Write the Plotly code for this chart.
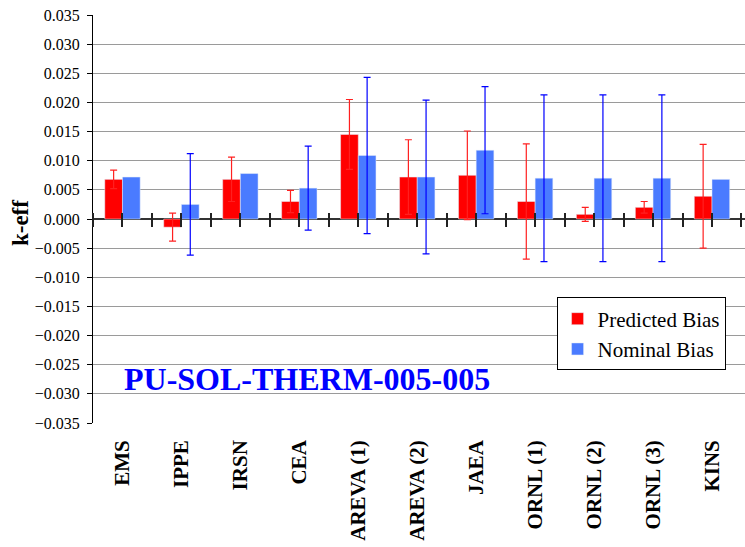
import numpy as np
import plotly.graph_objects as go

labs = ["EMS", "IPPE", "IRSN", "CEA", "AREVA (1)", "AREVA (2)", "JAEA",
        "ORNL (1)", "ORNL (2)", "ORNL (3)", "KINS"]
pred = [0.0068, -0.0014, 0.0068, 0.0030, 0.0145, 0.0072, 0.0075, 0.0030, 0.0008, 0.0020, 0.0039]
pred_err = [0.0016, 0.0024, 0.0038, 0.0019, 0.0060, 0.0064, 0.0076, 0.0099, 0.0012, 0.0010, 0.0089]
nom = [0.0072, 0.0025, 0.0078, 0.0053, 0.0109, 0.0072, 0.0118, 0.0070, 0.0070, 0.0070, 0.0068]
nom_err = np.array([np.nan, 0.0087, np.nan, 0.0072, 0.0134, 0.0132, 0.0109, 0.0143, 0.0143, 0.0143, np.nan])
y_ticks = np.round(np.arange(-0.035, 0.0351, 0.005), 3)

SERIF = "'Liberation Serif', 'Times New Roman', serif"
fig = go.Figure()
fig.add_trace(go.Bar(x=labs, y=pred, name="Predicted Bias", marker_color="#FF0000",
                     error_y=dict(type="data", array=pred_err, color="#FF2020",
                                  thickness=1.2, width=3.5)))
fig.add_trace(go.Bar(x=labs, y=nom, name="Nominal Bias", marker_color="#4A7BFF",
                     error_y=dict(type="data", array=nom_err, color="#0000FF",
                                  thickness=1.2, width=3.5)))
# empty helper trace so the tick-only axis crossing the zero line is drawn
fig.add_trace(go.Scatter(x=[None], y=[None], xaxis="x2", yaxis="y", mode="markers",
                         showlegend=False, hoverinfo="skip"))

n = len(labs)
xr = [-0.5, n - 0.5 + 0.06]
tv = np.arange(-0.5, n, 0.5)
plot_h = 547 - 15 - 124
fig.update_layout(
    width=745, height=547,
    margin=dict(l=93, r=0, t=15, b=124),
    paper_bgcolor="white", plot_bgcolor="white",
    barmode="group", bargap=0.40, bargroupgap=0,
    font=dict(family=SERIF, color="black"),
    xaxis=dict(range=xr, showgrid=False, ticks="", automargin=False,
               tickangle=-90, ticklabelstandoff=12,
               tickfont=dict(family=SERIF, size=21, color="black", weight="bold"),
               showline=False, zeroline=False),
    xaxis2=dict(overlaying="x", anchor="free", position=0.5 + 7 / plot_h, range=xr,
                tickvals=tv, ticks="outside", ticklen=14, tickwidth=1.5, tickcolor="#222",
                showticklabels=False, showgrid=False, showline=False, zeroline=False),
    yaxis=dict(range=[-0.035, 0.035], tickvals=y_ticks, tickformat=".3f",
               ticks="outside", ticklen=5, tickcolor="black", ticklabelstandoff=4,
               showline=True, linecolor="black", linewidth=1.2,
               gridcolor="#9A9A9A", gridwidth=1,
               zeroline=True, zerolinecolor="#333", zerolinewidth=1.5,
               automargin=False,
               tickfont=dict(family=SERIF, size=16, color="black")),
    legend=dict(x=0.711, y=0.3076, xanchor="left", yanchor="top",
                bgcolor="white", bordercolor="black", borderwidth=1,
                font=dict(family=SERIF, size=21, color="black")),
    annotations=[
        dict(text="PU-SOL-THERM-005-005", xref="paper", yref="paper",
             x=0.044, y=0.108, xanchor="left", yanchor="middle", showarrow=False,
             font=dict(family=SERIF, size=32, color="#0000FF", weight="bold")),
        dict(text="k-eff", xref="paper", yref="paper", textangle=-90,
             x=-0.112, y=0.49, xanchor="center", yanchor="middle", showarrow=False,
             font=dict(family=SERIF, size=23, color="black", weight="bold")),
    ],
)
fig.write_html("out.html")
